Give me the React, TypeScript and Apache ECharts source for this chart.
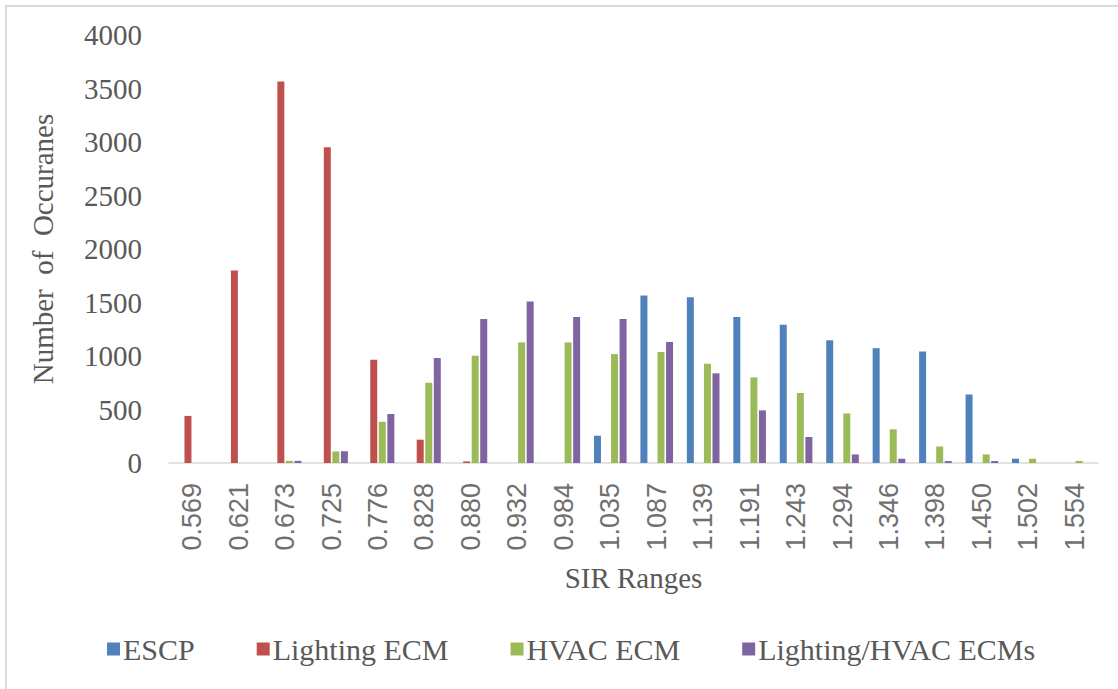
import React, { useEffect, useRef } from "react";
import * as echarts from "echarts";

const categories = [
  "0.569", "0.621", "0.673", "0.725", "0.776", "0.828", "0.880", "0.932", "0.984", "1.035",
  "1.087", "1.139", "1.191", "1.243", "1.294", "1.346", "1.398", "1.450", "1.502", "1.554",
];
const escp = [0, 0, 0, 0, 0, 0, 0, 0, 0, 255, 1565, 1550, 1365, 1293, 1147, 1073, 1042, 640, 40, 0];
const lightingEcm = [440, 1800, 3565, 2950, 965, 218, 15, 0, 0, 0, 0, 0, 0, 0, 0, 0, 0, 0, 0, 0];
const hvacEcm = [0, 0, 20, 108, 385, 750, 1003, 1127, 1127, 1018, 1037, 928, 800, 654, 463, 315, 154, 80, 40, 20];
const lightingHvacEcms = [0, 0, 20, 110, 458, 981, 1346, 1510, 1364, 1346, 1131, 838, 492, 243, 80, 40, 18, 18, 0, 0];
const yTicks = { min: 0, max: 4000, interval: 500 };

const seriesDefs = [
  { name: "ESCP", data: escp, color: "#4F81BD" },
  { name: "Lighting ECM", data: lightingEcm, color: "#C0504D" },
  { name: "HVAC ECM", data: hvacEcm, color: "#9BBB59" },
  { name: "Lighting/HVAC ECMs", data: lightingHvacEcms, color: "#8064A2" },
];

const serif = "'Liberation Serif', 'Times New Roman', serif";
const sans = "'Liberation Sans', Arial, sans-serif";

export default function App() {
  const ref = useRef<HTMLDivElement>(null);
  useEffect(() => {
    if (!ref.current) return;
    const chart = echarts.init(ref.current, null, { renderer: "svg" });
    chart.setOption({
      animation: false,
      backgroundColor: "#ffffff",
      graphic: [
        {
          type: "rect",
          shape: { x: 6, y: 6, width: 1200, height: 800 },
          style: { fill: "none", stroke: "#d9d9d9", lineWidth: 2 },
          silent: true,
        },
      ],
      grid: { left: 169, right: 20, top: 35, bottom: 226, containLabel: false },
      legend: {
        bottom: 20,
        left: 102,
        icon: "rect",
        itemWidth: 13,
        itemHeight: 13,
        itemGap: 62,
        textStyle: { fontFamily: serif, fontSize: 30, color: "#595959", padding: [0, 0, 0, -2] },
        data: seriesDefs.map((s) => s.name),
      },
      xAxis: {
        type: "category",
        data: categories,
        name: "SIR Ranges",
        nameLocation: "middle",
        nameGap: 100,
        nameTextStyle: { fontFamily: serif, fontSize: 29, color: "#595959" },
        axisLine: { show: true, lineStyle: { color: "#d9d9d9", width: 1.5 } },
        axisTick: { show: false },
        axisLabel: {
          rotate: 90,
          interval: 0,
          margin: 20,
          fontFamily: sans,
          fontSize: 27,
          color: "#707070",
        },
      },
      yAxis: {
        type: "value",
        min: yTicks.min,
        max: yTicks.max,
        interval: yTicks.interval,
        name: "Number  of  Occuranes",
        nameLocation: "middle",
        nameGap: 112,
        nameRotate: 90,
        nameTextStyle: { fontFamily: serif, fontSize: 29, color: "#595959" },
        axisLine: { show: false },
        axisTick: { show: false },
        splitLine: { show: false },
        axisLabel: {
          margin: 27,
          fontFamily: serif,
          fontSize: 29,
          color: "#595959",
          formatter: (v: number) => String(v),
        },
      },
      series: seriesDefs.map((s) => ({
        type: "bar",
        name: s.name,
        data: s.data,
        barWidth: 7,
        barGap: "22%",
        itemStyle: { color: s.color },
      })),
    });
    return () => chart.dispose();
  }, []);
  return (
    <div
      ref={ref}
      style={{ position: "absolute", left: 0, top: 0, width: 1118, height: 689 }}
    />
  );
}
